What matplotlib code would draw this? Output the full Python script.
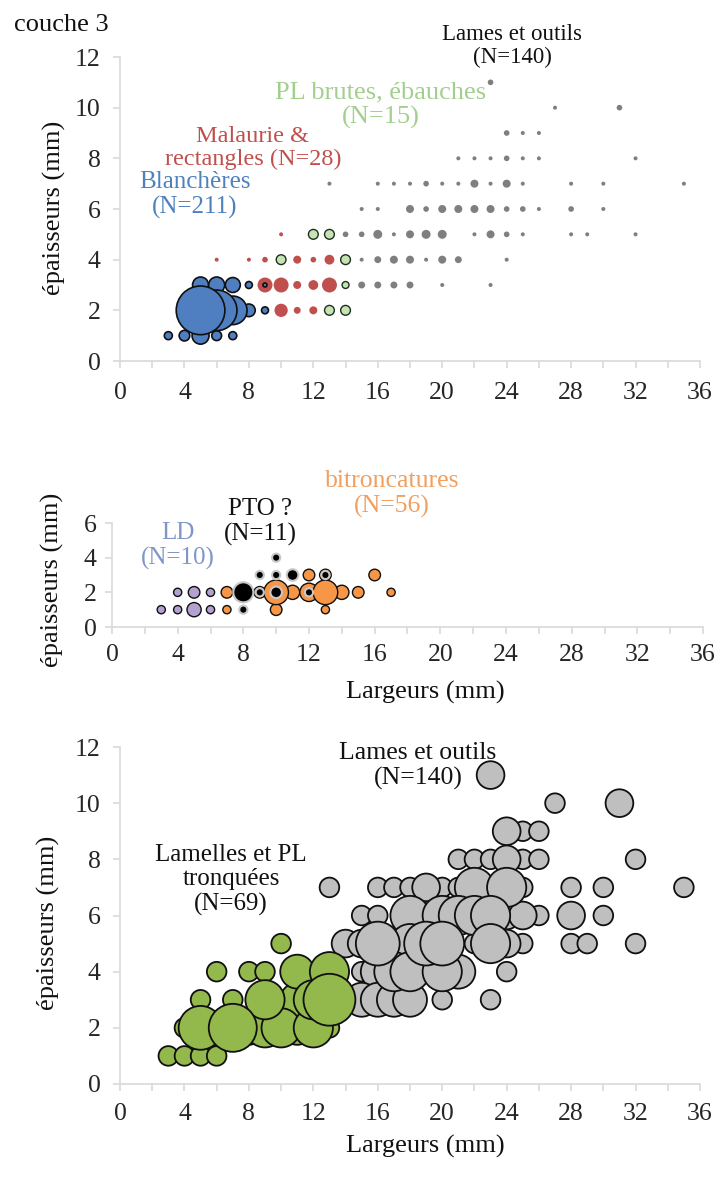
import numpy as np
import matplotlib
matplotlib.use("Agg")
import matplotlib.pyplot as plt

plt.rcParams['font.family'] = ['Liberation Serif', 'DejaVu Serif']

DPI = 100
W, H = 720, 1180

# ---------------- DATA ----------------
# Top panel (couche 3): counts per (largeur, epaisseur)
blan_x = [3, 4, 5, 6, 7, 5, 6, 7, 8, 9, 5, 6, 7, 8, 9]
blan_y = [1, 1, 1, 1, 1, 2, 2, 2, 2, 2, 3, 3, 3, 3, 3]
blan_n = [4, 7, 18, 6, 4, 148, 103, 51, 10, 3, 16, 16, 14, 3, 1]

mal_x = [10, 6, 8, 9, 11, 12, 13, 9, 10, 11, 12, 13, 10, 11, 12]
mal_y = [5, 4, 4, 4, 4, 4, 4, 3, 3, 3, 3, 3, 2, 2, 2]
mal_n = [1, 1, 1, 2, 4, 2, 6, 14, 14, 4, 6, 14, 11, 3, 4]

plb_x = [10, 12, 13, 14, 14, 13, 14]
plb_y = [4, 5, 5, 4, 3, 2, 2]
plb_n = [6, 6, 6, 6, 3, 6, 6]

lam_x = [23,
         27, 31,
         24, 25, 26,
         21, 22, 23, 24, 25, 26, 32,
         13, 16, 17, 18, 19, 20, 21, 22, 23, 24, 25, 28, 30, 35,
         15, 16, 18, 19, 20, 21, 22, 23, 24, 25, 26, 28, 30,
         14, 15, 16, 17, 18, 19, 20, 22, 23, 24, 25, 28, 29, 32,
         15, 16, 17, 18, 19, 20, 21, 24,
         15, 16, 17, 18, 20, 23]
lam_y = [11,
         10, 10,
         9, 9, 9,
         8, 8, 8, 8, 8, 8, 8,
         7, 7, 7, 7, 7, 7, 7, 7, 7, 7, 7, 7, 7, 7,
         6, 6, 6, 6, 6, 6, 6, 6, 6, 6, 6, 6, 6,
         5, 5, 5, 5, 5, 5, 5, 5, 5, 5, 5, 5, 5, 5,
         4, 4, 4, 4, 4, 4, 4, 4,
         3, 3, 3, 3, 3, 3]
lam_n = [2,
         1, 2,
         2, 1, 1,
         1, 1, 1, 2, 1, 1, 1,
         1, 1, 1, 1, 2, 1, 1, 4, 1, 4, 1, 1, 1, 1,
         1, 1, 4, 2, 4, 4, 4, 4, 2, 2, 1, 2, 1,
         2, 2, 5, 1, 4, 5, 5, 1, 4, 2, 1, 1, 1, 1,
         1, 3, 4, 4, 1, 4, 3, 1,
         3, 3, 3, 3, 1, 1]

# Middle panel
ld_x = [3, 4, 5, 6, 4, 5, 6]
ld_y = [1, 1, 1, 1, 2, 2, 2]
ld_n = [1, 1, 3, 1, 1, 2, 1]

bit_x = [7, 7, 8, 9, 10, 10, 11, 12, 12, 13, 13, 13, 14, 15, 16, 17]
bit_y = [1, 2, 2, 2, 1, 2, 2, 2, 3, 1, 2, 3, 2, 2, 3, 2]
bit_n = [1, 2, 3, 2, 2, 9, 3, 5, 2, 1, 9, 2, 3, 2, 2, 1]

pto_x = [8, 8, 9, 9, 10, 10, 10, 11, 12, 13]
pto_y = [1, 2, 2, 3, 2, 3, 4, 3, 2, 3]
pto_n = [1, 6, 1, 1, 2, 1, 1, 2, 1, 1]

# Bottom panel: Lamelles et PL tronquées
lpl_x = [3, 4, 5, 6,
         4, 5, 6, 7, 8, 9, 10, 11, 12, 13,
         5, 7, 9, 11, 12, 13,
         6, 8, 9, 11, 13,
         10]
lpl_y = [1, 1, 1, 1,
         2, 2, 2, 2, 2, 2, 2, 2, 2, 2,
         3, 3, 3, 3, 3, 3,
         4, 4, 4, 4, 4,
         5]
lpl_n = [1, 1, 1, 1,
         1, 5, 3, 6, 3, 4, 4, 3, 4, 1,
         1, 1, 4, 3, 4, 7,
         1, 1, 1, 3, 4,
         1]

# ---------------- HELPERS ----------------
def sz(n, r1):
    return (2 * r1 * np.sqrt(np.asarray(n, float)) * 72 / DPI) ** 2


def bubbles(ax, x, y, n, r1, fc, ec='none', lw=0.0, z=2):
    x, y, n = map(np.asarray, (x, y, n))
    o = np.argsort(n, kind='stable')
    ax.scatter(x[o], y[o], s=sz(n[o], r1), c=fc, edgecolors=ec,
               linewidths=lw, zorder=z, clip_on=False)


def rect(l, t, r, b):
    return [l / W, 1 - b / H, (r - l) / W, (b - t) / H]


def ftext(x, y, s, **kw):
    fig.text(x / W, 1 - y / H, s, ha='center', va='center',
             multialignment='center', linespacing=1.15, **kw)


AX_C = '#d9d9d9'
TXT = '#262626'
INK = '#111111'


def style(ax, ymax, xpad, ypad):
    ax.set_xlim(0, 36)
    ax.set_ylim(0, ymax)
    for s in ('top', 'right'):
        ax.spines[s].set_visible(False)
    for s in ('left', 'bottom'):
        ax.spines[s].set_color(AX_C)
        ax.spines[s].set_linewidth(1.2)
    xt = np.arange(0, 37, 2)
    ax.set_xticks(xt)
    ax.set_xticklabels([str(v) if v % 4 == 0 else '' for v in xt])
    ax.set_yticks(np.arange(0, ymax + 1, 2))
    ax.tick_params(direction='out', length=5, width=1.2, color=AX_C,
                   labelsize=18.5, labelcolor=TXT)
    ax.tick_params(axis='x', pad=xpad)
    ax.tick_params(axis='y', pad=ypad)
    ax.set_facecolor('none')


def ylab(x, y):
    fig.text(x / W, 1 - y / H, 'épaisseurs (mm)', rotation=90, fontsize=19,
             color=INK, ha='center', va='center')


fig = plt.figure(figsize=(W / DPI, H / DPI), dpi=DPI)

# ---------------- TOP ----------------
ax1 = fig.add_axes(rect(120, 57, 700, 361))
style(ax1, 12, 10, 9)
bubbles(ax1, lam_x, lam_y, lam_n, 2.0, '#7f7f7f', z=2)
bubbles(ax1, plb_x, plb_y, plb_n, 2.0, '#c6e3b3', ec='#1f2f1f', lw=1.0, z=3)
bubbles(ax1, mal_x, mal_y, mal_n, 2.0, '#c0504d', z=4)
bubbles(ax1, blan_x, blan_y, blan_n, 2.0, '#4f7fc0', ec='#101010', lw=1.2, z=5)

fig.text(14 / W, 1 - 25 / H, 'couche 3', fontsize=19, color=INK,
         ha='left', va='center')
ftext(512, 46, 'Lames et outils\n(N=140)', fontsize=16.5, color=INK)
ftext(381, 105, 'PL brutes, ébauches\n(N=15)', fontsize=19, color='#a3cf8e')
ftext(253, 148, 'Malaurie &\nrectangles (N=28)', fontsize=17.5, color='#c0504d')
ftext(195, 195, 'Blanchères\n(N=211)', fontsize=18, color='#4f81bd')
ylab(54, 208)

# ---------------- MIDDLE ----------------
ax2 = fig.add_axes(rect(112, 523, 703, 627))
style(ax2, 6, 7, 6)
bubbles(ax2, ld_x, ld_y, ld_n, 4.1, '#b3a2d0', ec='#101010', lw=1.0, z=2)
bubbles(ax2, bit_x, bit_y, bit_n, 4.1, '#f79646', ec='#101010', lw=1.0, z=3)
bubbles(ax2, pto_x, pto_y, pto_n, 4.1, '#000000', ec='#c8c8c8', lw=1.5, z=4)
ftext(392, 494, 'bitroncatures\n(N=56)', fontsize=18.5, color='#f0a060')
ftext(260, 522, 'PTO ?\n(N=11)', fontsize=18, color=INK)
ftext(178, 546, 'LD\n(N=10)', fontsize=18, color='#8096c8')
ftext(425, 692, 'Largeurs (mm)', fontsize=19, color=INK)
ylab(52, 580)

# ---------------- BOTTOM ----------------
ax3 = fig.add_axes(rect(120, 747, 700, 1084))
style(ax3, 12, 9, 9)
bubbles(ax3, lam_x, lam_y, lam_n, 9.8, '#bfbfbf', ec='#101010', lw=1.3, z=2)
bubbles(ax3, lpl_x, lpl_y, lpl_n, 9.8, '#93b84c', ec='#101010', lw=1.3, z=3)
ftext(418, 766, 'Lames et outils\n(N=140)', fontsize=18.5, color=INK)
ftext(231, 880, 'Lamelles et PL\ntronquées\n(N=69)', fontsize=18,
      color=INK)
ftext(425, 1146, 'Largeurs (mm)', fontsize=19, color=INK)
ylab(48, 923)

fig.savefig('out.png', dpi=DPI, facecolor='white')
